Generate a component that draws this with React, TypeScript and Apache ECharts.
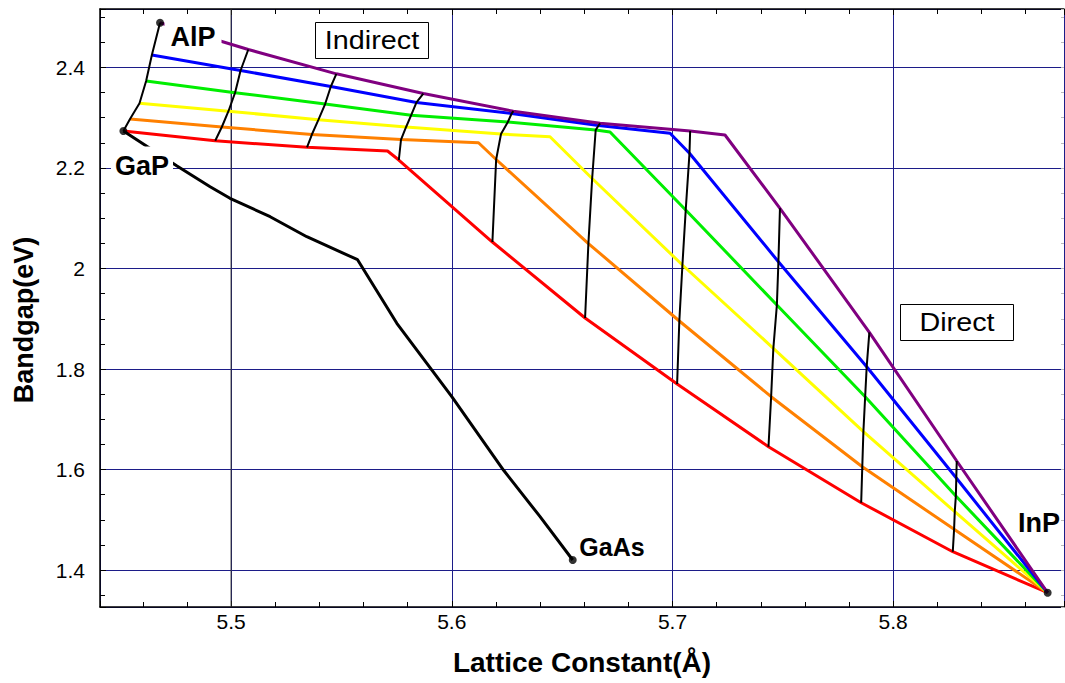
import { useEffect, useRef } from "react";
import * as echarts from "echarts";

// [lattice constant (Å), bandgap (eV)] at In fraction 0, 0.1, ..., 1.0
const gaInP = [[5.4512,2.2736],[5.4928,2.2543],[5.5344,2.2412],[5.5760,2.2159],[5.6184,2.0527],[5.6604,1.9015],[5.7021,1.7701],[5.7435,1.6454],[5.7855,1.5339],[5.8270,1.4364],[5.8700,1.3548]];
const al02 = [[5.4542,2.2975],[5.4958,2.2816],[5.5366,2.2666],[5.5770,2.2567],[5.6201,2.2169],[5.6619,2.0497],[5.7031,1.8955],[5.7447,1.7449],[5.7860,1.6056],[5.8276,1.4810],[5.8700,1.3548]];
const al04 = [[5.4585,2.3287],[5.4988,2.3130],[5.5396,2.2961],[5.5793,2.2816],[5.6223,2.2676],[5.6636,2.1791],[5.7045,2.0070],[5.7457,1.8412],[5.7865,1.6752],[5.8279,1.5160],[5.8700,1.3548]];
const al06 = [[5.4615,2.3731],[5.5018,2.3498],[5.5426,2.3273],[5.5816,2.3051],[5.6254,2.2915],[5.6652,2.2756],[5.7060,2.1164],[5.7473,1.9274],[5.7873,1.7449],[5.8284,1.5473],[5.8700,1.3548]];
const al08 = [[5.4641,2.4249],[5.5043,2.3940],[5.5452,2.3622],[5.5840,2.3305],[5.6271,2.3084],[5.6665,2.2846],[5.7077,2.2292],[5.7480,2.0135],[5.7880,1.8046],[5.8286,1.5831],[5.8700,1.3548]];
const alInP = [[5.4678,2.4891],[5.5078,2.4358],[5.5477,2.3874],[5.5871,2.3482],[5.6279,2.3130],[5.6672,2.2889],[5.7080,2.2736],[5.7487,2.1198],[5.7892,1.8730],[5.8288,1.6169],[5.8700,1.3548]];
// indirect -> direct crossover kinks
const kinks = [[5.5709,2.2338],[5.6121,2.2503],[5.6445,2.2623],[5.6717,2.2716],[5.6989,2.2690],[5.7238,2.2657]];
const lineColors = ["#ff0000","#ff8000","#ffff00","#00ee00","#0000ff","#800080"];
const gaAsP = [[5.4512,2.2736],[5.4755,2.2040],[5.4905,2.1628],[5.4995,2.1397],[5.5177,2.1031],[5.5343,2.0633],[5.5573,2.0175],[5.5751,1.8909],[5.6000,1.7449],[5.6234,1.5990],[5.6400,1.5061],[5.6548,1.4199]];
const binaries = [["AlP",5.4678,2.4891],["GaP",5.4512,2.2736],["InP",5.8700,1.3548],["GaAs",5.6548,1.4199]];
const xMin = 5.4406, xMax = 5.8774, yMin = 1.3264, yMax = 2.5164;
const darkGridX = 5.5;

export default function App() {
  const ref = useRef<HTMLDivElement>(null);
  useEffect(() => {
    document.body.style.margin = "0";
    const chart = echarts.init(ref.current!, null, { renderer: "svg" });
    const alloys = [gaInP, al02, al04, al06, al08, alInP];
    const colored = alloys.map((arr, i) => ({
      type: "line", z: 3 + i, symbol: "none", silent: true,
      data: [...arr, kinks[i]].sort((a, b) => a[0] - b[0]),
      lineStyle: { color: lineColors[i], width: 3 },
    }));
    const blacks = [];
    for (let k = 0; k < 10; k++) {
      blacks.push({
        type: "line", z: 10, symbol: "none", silent: true,
        data: alloys.map((a) => a[k]),
        lineStyle: { color: "#000", width: 2 },
      });
    }
    const font = '"Liberation Sans", Arial, sans-serif';
    const tick = (v: number, step: number) => {
      const r = v / step;
      return Math.abs(r - Math.round(r)) < 1e-6 ? String(Number(v.toFixed(1))) : "";
    };
    const xCommon = {
      type: "value", min: xMin, max: xMax, splitNumber: 4,
      axisLine: { show: true, lineStyle: { color: "#000", width: 1.5 } },
      axisTick: { show: true, inside: true, length: 6, lineStyle: { color: "#000" } },
      minorTick: { show: true, splitNumber: 5, length: 5, lineStyle: { color: "#000" } },
    };
    const yCommon = {
      type: "value", min: yMin, max: yMax, splitNumber: 6,
      axisTick: { show: true, inside: true, length: 6, lineStyle: { color: "#000" } },
      minorTick: { show: true, splitNumber: 4, length: 5, lineStyle: { color: "#000" } },
    };
    chart.setOption({
      animation: false,
      backgroundColor: "#fff",
      grid: { left: 100, top: 9, right: 1, bottom: 76, containLabel: false, outerBoundsMode: "none" },
      xAxis: [
        {
          ...xCommon, position: "bottom",
          name: "Lattice Constant(Å)", nameLocation: "middle", nameGap: 41,
          nameTextStyle: { fontFamily: font, fontWeight: "bold", fontSize: 28, color: "#000" },
          axisLabel: { fontFamily: font, fontSize: 21, color: "#000", margin: 4, formatter: (v: number) => tick(v, 0.1) },
          splitLine: { show: true, lineStyle: { color: "#1c1c88", width: 1 } },
        },
        { ...xCommon, position: "top", axisLabel: { show: false }, splitLine: { show: false } },
      ],
      yAxis: [
        {
          ...yCommon, position: "left",
          axisLine: { show: true, lineStyle: { color: "#000", width: 1.5 } },
          name: "Bandgap(eV)", nameLocation: "middle", nameGap: 63,
          nameTextStyle: { fontFamily: font, fontWeight: "bold", fontSize: 27, color: "#000", padding: [0, 24, 0, 0] },
          axisLabel: { fontFamily: font, fontSize: 21, color: "#000", margin: 15, formatter: (v: number) => tick(v, 0.2) },
          splitLine: { show: true, lineStyle: { color: "#1c1c88", width: 1 } },
        },
        {
          ...yCommon, position: "right",
          axisLine: { show: true, lineStyle: { color: "rgba(0,0,0,0)" } },
          axisTick: { show: true, inside: true, length: 3, lineStyle: { color: "#bbb" } },
          minorTick: { show: true, splitNumber: 4, length: 3, lineStyle: { color: "#bbb" } },
          axisLabel: { show: false }, splitLine: { show: false },
        },
      ],
      series: [
        {
          type: "line", z: 1, symbol: "none", silent: true,
          data: [[darkGridX, yMin], [darkGridX, yMax]],
          lineStyle: { color: "#333", width: 1 },
        },
        ...colored,
        ...blacks,
        {
          type: "line", z: 10, symbol: "none", silent: true, data: gaAsP,
          lineStyle: { color: "#000", width: 3 },
        },
        {
          type: "scatter", z: 12, symbolSize: 8, silent: true,
          data: binaries.map((b) => [b[1], b[2]]),
          itemStyle: { color: "#000" },
        },
      ],
      graphic: [
        { type: "text", z: 100, x: 193, y: 37, style: { text: "AlP", font: `bold 27px ${font}`, fill: "#000", align: "center", verticalAlign: "middle", backgroundColor: "#fff", padding: [3, 6] } },
        { type: "text", z: 100, x: 142, y: 166, style: { text: "GaP", font: `bold 27px ${font}`, fill: "#000", align: "center", verticalAlign: "middle", backgroundColor: "#fff", padding: [10, 4, 2, 4] } },
        { type: "text", z: 100, x: 612, y: 547, style: { text: "GaAs", font: `bold 25px ${font}`, fill: "#000", align: "center", verticalAlign: "middle" } },
        { type: "text", z: 100, x: 1039, y: 523, style: { text: "InP", font: `bold 27px ${font}`, fill: "#000", align: "center", verticalAlign: "middle" } },
        { type: "rect", z: 100, shape: { x: 315.5, y: 22.5, width: 113, height: 36 }, style: { fill: "#fff", stroke: "#000", lineWidth: 1 } },
        { type: "text", z: 101, x: 372, y: 41, scaleX: 1.15, style: { text: "Indirect", font: `25px ${font}`, fill: "#000", align: "center", verticalAlign: "middle" } },
        { type: "rect", z: 100, shape: { x: 900.5, y: 304.5, width: 113, height: 36 }, style: { fill: "#fff", stroke: "#000", lineWidth: 1 } },
        { type: "text", z: 101, x: 957, y: 323, scaleX: 1.15, style: { text: "Direct", font: `25px ${font}`, fill: "#000", align: "center", verticalAlign: "middle" } },
      ],
    });
    return () => chart.dispose();
  }, []);
  return <div ref={ref} style={{ width: 1065, height: 683 }} />;
}
